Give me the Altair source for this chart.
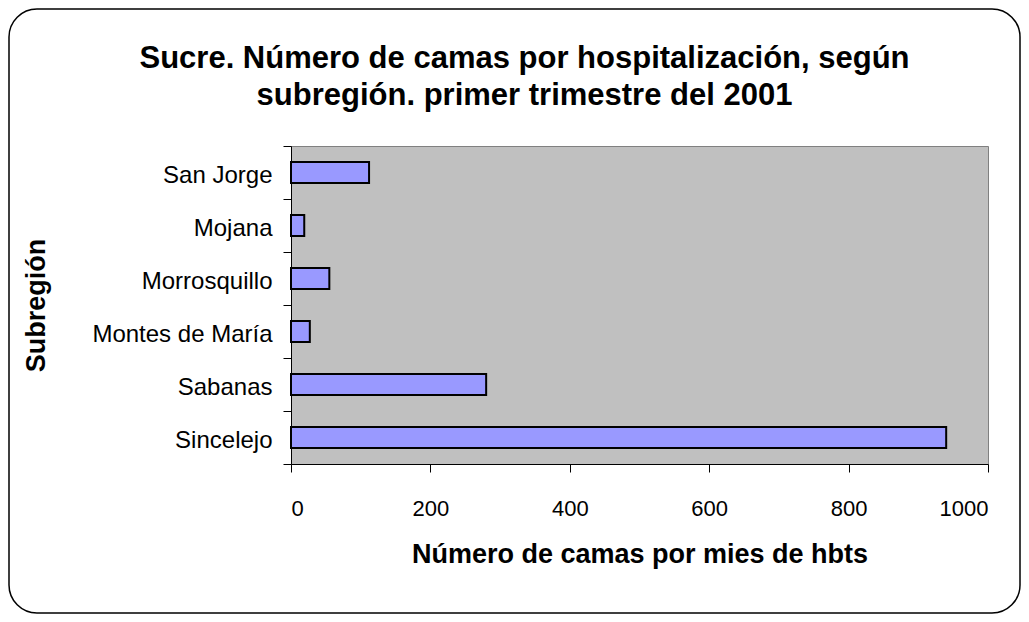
import altair as alt
import pandas as pd

subregiones = ["San Jorge", "Mojana", "Morrosquillo", "Montes de María", "Sabanas", "Sincelejo"]
camas = [112, 19, 55, 27, 280, 940]
x_ticks = [0, 200, 400, 600, 800, 1000]

df = pd.DataFrame({"Subregión": subregiones, "camas": camas})

FONT = "Liberation Sans"

bars = alt.Chart(df).mark_bar(
    fill="#9999FF", stroke="#000000", strokeWidth=2, height={"band": 0.4}
).encode(
    y=alt.Y("Subregión:N", sort=subregiones,
            scale=alt.Scale(paddingInner=0, paddingOuter=0),
            axis=alt.Axis(title="Subregión", tickBand="extent", tickSize=8,
                          labelPadding=11, labelFontSize=24, labelFont=FONT, labelOffset=3,
                          labelLimit=400,
                          labelColor="#000000", domainColor="#000000", tickColor="#000000",
                          titleFontSize=27, titleFont=FONT, titleFontWeight="bold",
                          titleColor="#000000", titleX=-255, titleY=159,
                          titleAngle=-90, titleBaseline="middle", titleAlign="center")),
    x=alt.X("camas:Q", scale=alt.Scale(domain=[0, 1000], nice=False),
            axis=alt.Axis(title="Número de camas por mies de hbts", values=x_ticks, format="d",
                          tickSize=8, labelPadding=26, labelFontSize=22, labelFont=FONT,
                          labelColor="#000000", domainColor="#000000", tickColor="#000000",
                          grid=False, titleFontSize=27, titleFont=FONT, titleFontWeight="bold",
                          titleColor="#000000", titlePadding=22)),
)

border = alt.Chart(df).mark_rect(
    fill=None, stroke="#000000", strokeWidth=1.5, cornerRadius=28
).encode(
    x=alt.value(-282), x2=alt.value(729), y=alt.value(-137), y2=alt.value(467)
).transform_filter(alt.datum["Subregión"] == "Sincelejo")

chart = alt.layer(bars, border).properties(
    width=697, height=318,
    background="#FFFFFF",
    padding={"left": 283, "top": 138, "right": 33, "bottom": 150},
    autosize=alt.AutoSizeParams(type="none"),
    title=alt.TitleParams(
        text=["Sucre. Número de camas por hospitalización, según",
              "subregión. primer trimestre del 2001"],
        font=FONT, fontSize=31, fontWeight="bold", color="#000000",
        anchor="middle", dx=-115, offset=-104, lineHeight=37,
    ),
).configure_view(
    fill="#C0C0C0", stroke="#808080", strokeWidth=1
)

chart.save("out.html", embed_options={"renderer": "svg", "actions": False})
